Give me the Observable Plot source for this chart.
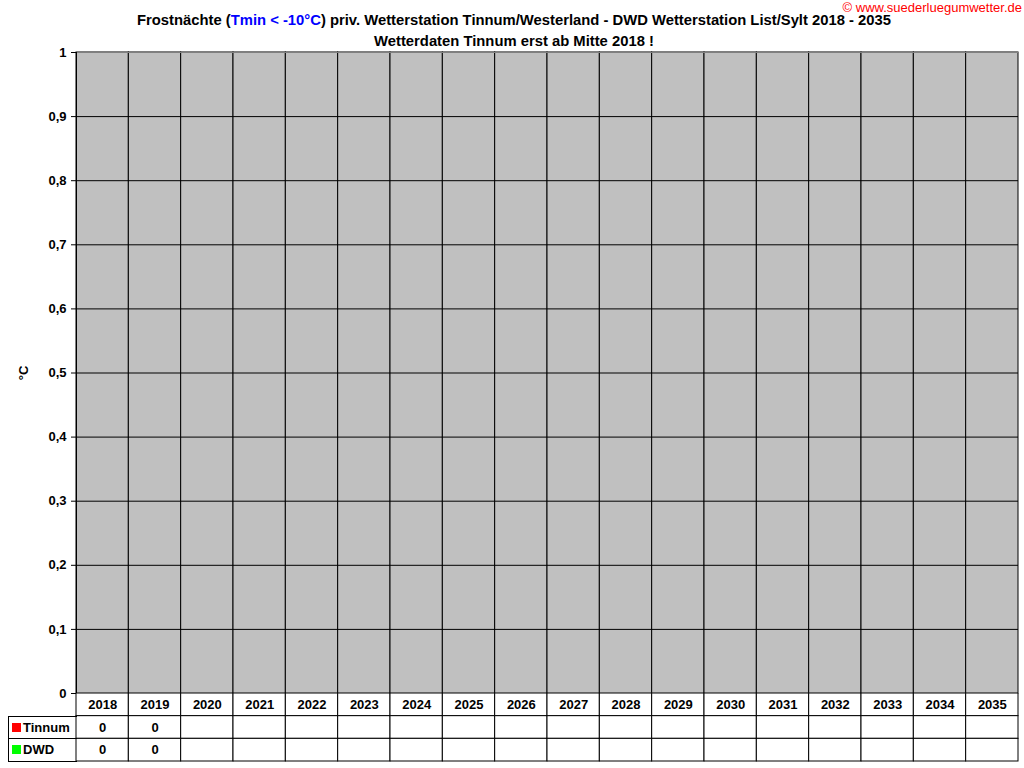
<!DOCTYPE html>
<html>
<head>
<meta charset="utf-8">
<script src="https://cdn.jsdelivr.net/npm/d3@7"></script>
<script src="https://cdn.jsdelivr.net/npm/@observablehq/plot@0.6"></script>
<style>
  html, body { margin: 0; padding: 0; background: #fff; }
  body { width: 1024px; height: 768px; position: relative; overflow: hidden; font-family: Arial, "Liberation Sans", sans-serif; }
  #title { position: absolute; left: 0; top: 10px; width: 1028px; text-align: center; font-weight: bold; font-size: 14.8px; line-height: 21px; color: #000; }
  #title .blue { color: #0000FF; }
  #copy { position: absolute; right: 2px; top: 0px; font-size: 13px; color: #FF0000; white-space: nowrap; }
  #chart { position: absolute; left: 0; top: 46px; }
  #table { position: absolute; left: 0; top: 693px; }
  .lab { position: absolute; left: 8px; width: 69px; border: 1px solid #000; border-right: none; font-weight: bold; font-size: 13px; box-sizing: border-box; }
  .sq { display: inline-block; width: 9px; height: 9px; margin: 0 2px 0 3px; }
</style>
</head>
<body>
<div id="copy">© www.suederluegumwetter.de</div>
<div id="title">Frostnächte (<span class="blue">Tmin &lt; -10°C</span>) priv. Wetterstation Tinnum/Westerland - DWD Wetterstation List/Sylt 2018 - 2035<br>Wetterdaten Tinnum erst ab Mitte 2018 !</div>
<div id="chart"></div>
<div id="table"></div>
<script>
// ---- data ----
const years = ["2018","2019","2020","2021","2022","2023","2024","2025","2026","2027","2028","2029","2030","2031","2032","2033","2034","2035"];
const tinnum = [0, 0];
const dwd = [0, 0];
const seriesNames = ["Tinnum", "DWD"];
const seriesColors = ["#FF0000", "#00FF00"];
const yTicks = [0, 0.1, 0.2, 0.3, 0.4, 0.5, 0.6, 0.7, 0.8, 0.9, 1];

const fmt = d => (d === 0 || d === 1) ? String(d) : d.toFixed(1).replace(".", ",");

const barData = [];
tinnum.forEach((v, i) => barData.push({year: years[i], series: "Tinnum", value: v}));
dwd.forEach((v, i) => barData.push({year: years[i], series: "DWD", value: v}));

const W = 1024, mL = 76, mR = 6;
const bw = (W - mL - mR) / years.length;

const chart = Plot.plot({
  width: W,
  height: 660,
  marginTop: 6,
  marginBottom: 13,
  marginLeft: mL,
  marginRight: mR,
  style: {fontFamily: "Arial, 'Liberation Sans', sans-serif", fontSize: "13px", fontWeight: "bold", color: "#000", background: "transparent"},
  x: {domain: years, padding: 0, round: false, axis: null},
  y: {domain: [0, 1], ticks: yTicks, tickFormat: fmt},
  color: {domain: seriesNames, range: seriesColors},
  marks: [
    Plot.cell(years, {x: d => d, fill: "#C0C0C0", stroke: "#000", strokeWidth: 1, inset: 0}),
    Plot.ruleY(yTicks.filter(d => d > 0 && d < 1), {stroke: "#000", strokeWidth: 1}),
    Plot.barY(barData.filter(d => d.series === "Tinnum"), {x: "year", y: "value", fill: "series", insetLeft: bw * 0.1, insetRight: bw * 0.5}),
    Plot.barY(barData.filter(d => d.series === "DWD"), {x: "year", y: "value", fill: "series", insetLeft: bw * 0.5, insetRight: bw * 0.1}),
    Plot.ruleY([1], {stroke: "#808080", strokeWidth: 1}),
    Plot.ruleX([years[years.length - 1]], {dx: bw / 2, stroke: "#808080", strokeWidth: 1}),
    Plot.ruleY([0], {stroke: "#000", strokeWidth: 1}),
    Plot.axisY({ticks: yTicks, tickFormat: fmt, tickSize: 5, tickPadding: 5, label: "°C", labelAnchor: "center", labelArrow: "none", labelOffset: 58, fontSize: 13, fontWeight: "bold"}),
    Plot.ruleX([years[0]], {dx: -bw / 2, stroke: "#000", strokeWidth: 1})
  ]
});
document.getElementById("chart").append(chart);

// ---- data table ----
const rows = ["Jahr", "Tinnum", "DWD"];
const cells = [];
years.forEach((y, i) => {
  cells.push({year: y, row: "Jahr", text: y});
  cells.push({year: y, row: "Tinnum", text: tinnum[i] === undefined ? "" : String(tinnum[i])});
  cells.push({year: y, row: "DWD", text: dwd[i] === undefined ? "" : String(dwd[i])});
});

const table = Plot.plot({
  width: W,
  height: 69,
  marginTop: 0,
  marginBottom: 1,
  marginLeft: mL,
  marginRight: mR,
  style: {fontFamily: "Arial, 'Liberation Sans', sans-serif", fontSize: "13px", fontWeight: "bold", color: "#000", background: "transparent"},
  x: {domain: years, padding: 0, round: false, axis: null},
  y: {domain: rows, padding: 0, round: false, axis: null},
  marks: [
    Plot.cell(cells, {x: "year", y: "row", fill: "#fff", stroke: "#000", strokeWidth: 1, inset: 0}),
    Plot.text(cells, {x: "year", y: "row", text: "text", fill: "#000", fontSize: 13, fontWeight: "bold"})
  ]
});
document.getElementById("table").append(table);

// row labels in the left column (legend keys)
const rowH = 68 / 3;
seriesNames.forEach((name, i) => {
  const div = document.createElement("div");
  div.className = "lab";
  div.style.top = (693 + rowH * (i + 1)) + "px";
  div.style.height = (rowH + 1) + "px";
  div.style.lineHeight = (rowH - 1) + "px";
  div.innerHTML = `<span class="sq" style="background:${seriesColors[i]}"></span>${name}`;
  document.body.append(div);
});
</script>
</body>
</html>
